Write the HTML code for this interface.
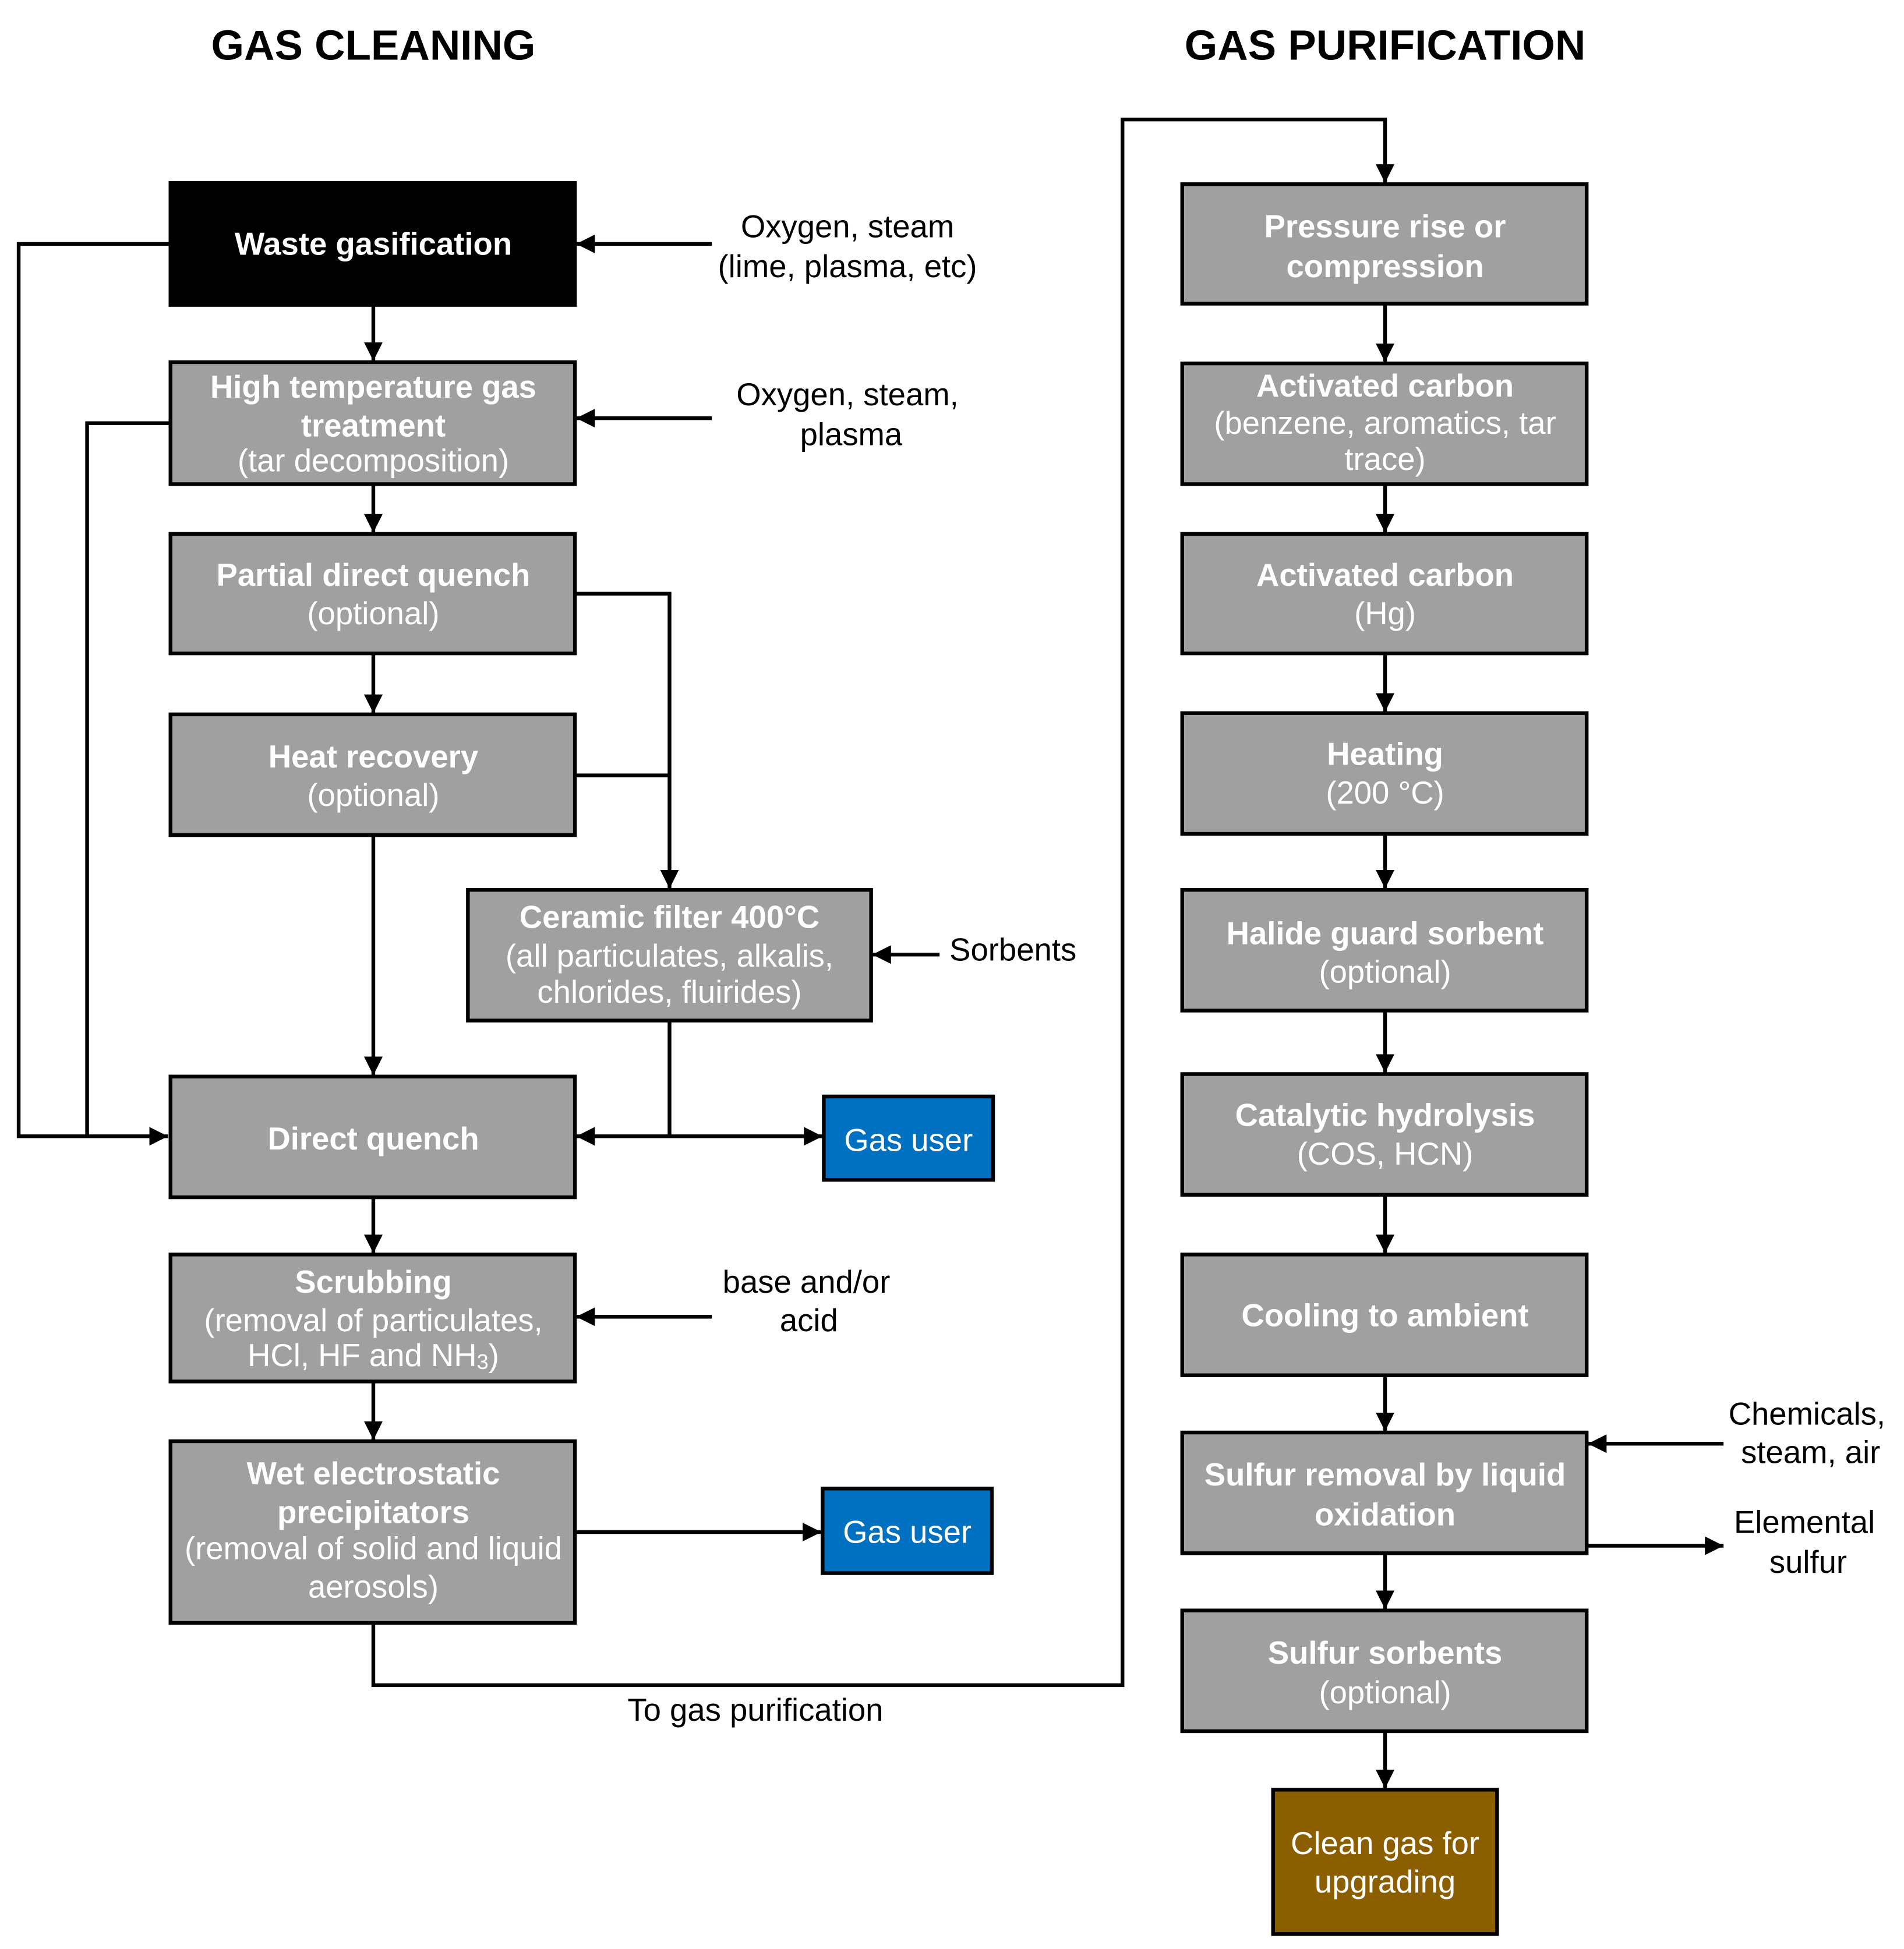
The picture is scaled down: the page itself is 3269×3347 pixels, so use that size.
<!DOCTYPE html>
<html><head><meta charset="utf-8"><style>
html,body{margin:0;padding:0;background:#fff;}
svg{display:block;}
text{font-family:"Liberation Sans",Arial,sans-serif;}
</style></head><body>
<svg width="3269" height="3347" viewBox="0 0 1530 1566" preserveAspectRatio="none" xmlns="http://www.w3.org/2000/svg">
<defs>
<marker id="a" viewBox="0 0 14 14" refX="14" refY="7" markerWidth="15" markerHeight="15" markerUnits="userSpaceOnUse" orient="auto">
<path d="M0,0 L14,7 L0,14 Z" fill="#000"/></marker>
</defs>
<rect width="1530" height="1566" fill="#fff"/>
<g font-weight="bold" font-size="34" text-anchor="middle" fill="#000">
<text x="300" y="48">GAS CLEANING</text>
<text x="1113" y="48">GAS PURIFICATION</text>
</g>
<g stroke="#000" stroke-width="3" fill="none">
<polyline points="137,196 15,196 15,913 135,913" marker-end="url(#a)"/>
<polyline points="140,340 70,340 70,913"/>
<line x1="572" y1="196" x2="463" y2="196" marker-end="url(#a)"/>
<line x1="572" y1="336" x2="463" y2="336" marker-end="url(#a)"/>
<line x1="300" y1="245" x2="300" y2="290" marker-end="url(#a)"/>
<line x1="300" y1="389" x2="300" y2="428" marker-end="url(#a)"/>
<line x1="300" y1="525" x2="300" y2="573" marker-end="url(#a)"/>
<line x1="300" y1="671" x2="300" y2="864" marker-end="url(#a)"/>
<line x1="300" y1="962" x2="300" y2="1007" marker-end="url(#a)"/>
<line x1="300" y1="1110" x2="300" y2="1157" marker-end="url(#a)"/>
<polyline points="462,477 538,477 538,714" marker-end="url(#a)"/>
<polyline points="462,623 538,623"/>
<polyline points="538,820 538,913"/>
<line x1="538" y1="913" x2="463" y2="913" marker-end="url(#a)"/>
<line x1="536" y1="913" x2="661" y2="913" marker-end="url(#a)"/>
<line x1="755" y1="767" x2="701" y2="767" marker-end="url(#a)"/>
<line x1="572" y1="1058" x2="463" y2="1058" marker-end="url(#a)"/>
<line x1="462" y1="1231" x2="660" y2="1231" marker-end="url(#a)"/>
<polyline points="300,1304 300,1354 902,1354 902,96 1113,96 1113,147" marker-end="url(#a)"/>
<line x1="1113" y1="244" x2="1113" y2="291" marker-end="url(#a)"/>
<line x1="1113" y1="389" x2="1113" y2="428" marker-end="url(#a)"/>
<line x1="1113" y1="525" x2="1113" y2="572" marker-end="url(#a)"/>
<line x1="1113" y1="670" x2="1113" y2="714" marker-end="url(#a)"/>
<line x1="1113" y1="812" x2="1113" y2="862" marker-end="url(#a)"/>
<line x1="1113" y1="960" x2="1113" y2="1007" marker-end="url(#a)"/>
<line x1="1113" y1="1105" x2="1113" y2="1150" marker-end="url(#a)"/>
<line x1="1113" y1="1248" x2="1113" y2="1293" marker-end="url(#a)"/>
<line x1="1113" y1="1391" x2="1113" y2="1437" marker-end="url(#a)"/>
<line x1="1385" y1="1160" x2="1276" y2="1160" marker-end="url(#a)"/>
<line x1="1275" y1="1242" x2="1385" y2="1242" marker-end="url(#a)"/>
</g>
<g stroke="#000" stroke-width="3">
<rect x="137" y="147" width="325" height="98" fill="#000"/>
<rect x="137" y="291" width="325" height="98" fill="#A0A0A0"/>
<rect x="137" y="429" width="325" height="96" fill="#A0A0A0"/>
<rect x="137" y="574" width="325" height="97" fill="#A0A0A0"/>
<rect x="376" y="715" width="324" height="105" fill="#A0A0A0"/>
<rect x="137" y="865" width="325" height="97" fill="#A0A0A0"/>
<rect x="662" y="881" width="136" height="67" fill="#0070C0"/>
<rect x="137" y="1008" width="325" height="102" fill="#A0A0A0"/>
<rect x="137" y="1158" width="325" height="146" fill="#A0A0A0"/>
<rect x="661" y="1196" width="136" height="68" fill="#0070C0"/>
<rect x="950" y="148" width="325" height="96" fill="#A0A0A0"/>
<rect x="950" y="292" width="325" height="97" fill="#A0A0A0"/>
<rect x="950" y="429" width="325" height="96" fill="#A0A0A0"/>
<rect x="950" y="573" width="325" height="97" fill="#A0A0A0"/>
<rect x="950" y="715" width="325" height="97" fill="#A0A0A0"/>
<rect x="950" y="863" width="325" height="97" fill="#A0A0A0"/>
<rect x="950" y="1008" width="325" height="97" fill="#A0A0A0"/>
<rect x="950" y="1151" width="325" height="97" fill="#A0A0A0"/>
<rect x="950" y="1294" width="325" height="97" fill="#A0A0A0"/>
<rect x="1023" y="1438" width="180" height="116" fill="#8B5E00"/>
</g>
<g fill="#fff" font-size="25.5" text-anchor="middle" dominant-baseline="central">
<text x="300" y="196" font-weight="bold">Waste gasification</text>
<text x="300" y="311" font-weight="bold">High temperature gas</text>
<text x="300" y="342" font-weight="bold">treatment</text>
<text x="300" y="370">(tar decomposition)</text>
<text x="300" y="462" font-weight="bold">Partial direct quench</text>
<text x="300" y="493">(optional)</text>
<text x="300" y="608" font-weight="bold">Heat recovery</text>
<text x="300" y="639">(optional)</text>
<text x="538" y="737" font-weight="bold">Ceramic filter 400°C</text>
<text x="538" y="768">(all particulates, alkalis,</text>
<text x="538" y="797">chlorides, fluirides)</text>
<text x="300" y="915" font-weight="bold">Direct quench</text>
<text x="730" y="916">Gas user</text>
<text x="300" y="1030" font-weight="bold">Scrubbing</text>
<text x="300" y="1061">(removal of particulates,</text>
<text x="300" y="1089">HCl, HF and NH<tspan font-size="17" dy="5">3</tspan><tspan dy="-5">)</tspan></text>
<text x="300" y="1184" font-weight="bold">Wet electrostatic</text>
<text x="300" y="1215" font-weight="bold">precipitators</text>
<text x="300" y="1244">(removal of solid and liquid</text>
<text x="300" y="1275">aerosols)</text>
<text x="729" y="1231">Gas user</text>
<text x="1113" y="182" font-weight="bold">Pressure rise or</text>
<text x="1113" y="214" font-weight="bold">compression</text>
<text x="1113" y="310" font-weight="bold">Activated carbon</text>
<text x="1113" y="340">(benzene, aromatics, tar</text>
<text x="1113" y="369">trace)</text>
<text x="1113" y="462" font-weight="bold">Activated carbon</text>
<text x="1113" y="493">(Hg)</text>
<text x="1113" y="606" font-weight="bold">Heating</text>
<text x="1113" y="637">(200 °C)</text>
<text x="1113" y="750" font-weight="bold">Halide guard sorbent</text>
<text x="1113" y="781">(optional)</text>
<text x="1113" y="896" font-weight="bold">Catalytic hydrolysis</text>
<text x="1113" y="927">(COS, HCN)</text>
<text x="1113" y="1057" font-weight="bold">Cooling to ambient</text>
<text x="1113" y="1185" font-weight="bold">Sulfur removal by liquid</text>
<text x="1113" y="1217" font-weight="bold">oxidation</text>
<text x="1113" y="1328" font-weight="bold">Sulfur sorbents</text>
<text x="1113" y="1360">(optional)</text>
<text x="1113" y="1481">Clean gas for</text>
<text x="1113" y="1512">upgrading</text>
</g>
<g fill="#000" font-size="25.5" text-anchor="middle" dominant-baseline="central">
<text x="681" y="182">Oxygen, steam</text>
<text x="681" y="214">(lime, plasma, etc)</text>
<text x="681" y="317">Oxygen, steam,</text>
<text x="684" y="349">plasma</text>
<text x="814" y="763">Sorbents</text>
<text x="648" y="1030">base and/or</text>
<text x="650" y="1061">acid</text>
<text x="607" y="1374">To gas purification</text>
<text x="1452" y="1136">Chemicals,</text>
<text x="1455" y="1167">steam, air</text>
<text x="1450" y="1223">Elemental</text>
<text x="1453" y="1255">sulfur</text>
</g>
</svg>
</body></html>
